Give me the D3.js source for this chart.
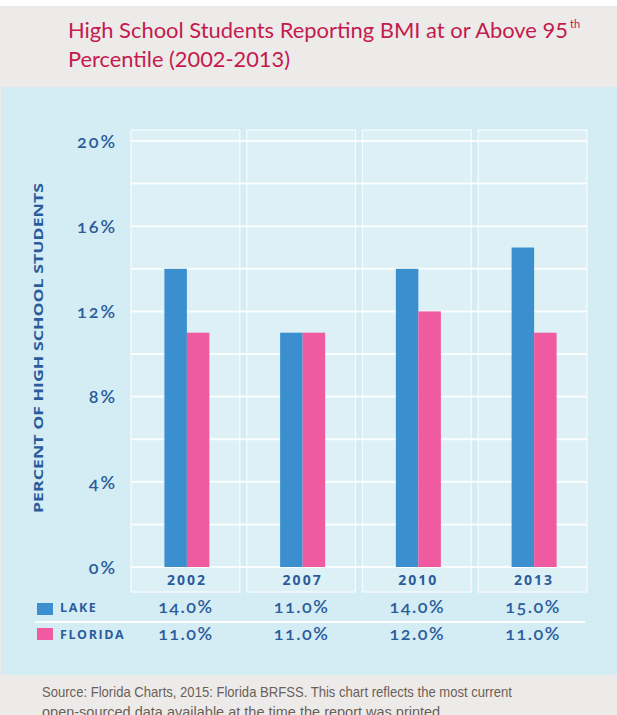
<!DOCTYPE html>
<html><head><meta charset="utf-8">
<script src="https://cdn.jsdelivr.net/npm/d3@7"></script>
<style>body{margin:0;background:#fff}svg{display:block}</style>
</head><body>
<script>
const years = ["2002","2007","2010","2013"];
const lake = [14,11,14,15];
const florida = [11,11,12,11];
const seriesNames = ["LAKE","FLORIDA"];
const yTicks = [0,4,8,12,16,20];
const titleLines = ["High School Students Reporting BMI at or Above 95","Percentile (2002-2013)"];
const sourceLines = ["Source: Florida Charts, 2015: Florida BRFSS. This chart reflects the most current",
  "open-sourced data available at the time the report was printed."];

const W=617,H=715;
const svg=d3.select("body").append("svg").attr("width",W).attr("height",H);
const blueTxt="#2a5c9c", cLake="#3b8fce", cFla="#ef5aa0";

// backgrounds
svg.append("rect").attr("x",0).attr("y",6).attr("width",W).attr("height",H-6).attr("fill","#ecebe9");
svg.append("rect").attr("x",1).attr("y",87).attr("width",W-1).attr("height",588).attr("fill","#d4ecf3");

// title
svg.append("text").attr("x",68).attr("y",38).attr("fill","#c41a4e")
  .style("font-family","Lato, 'Open Sans', sans-serif").style("font-size","22px")
  .attr("textLength",500).attr("lengthAdjust","spacingAndGlyphs").text(titleLines[0]);
svg.append("text").attr("x",570).attr("y",28).attr("fill","#c41a4e")
  .style("font-family","Lato, sans-serif").style("font-size","11px").text("th");
svg.append("text").attr("x",68).attr("y",67).attr("fill","#c41a4e")
  .style("font-family","Lato, 'Open Sans', sans-serif").style("font-size","22px")
  .attr("textLength",222).attr("lengthAdjust","spacingAndGlyphs").text(titleLines[1]);

// scales
const x=d3.scaleBand().domain(years).range([131,587]).paddingInner(0.06).paddingOuter(0);
const y=d3.scaleLinear().domain([0,20]).range([567,141]);
const barW=22.5;

// column panels
svg.append("g").selectAll("rect").data(years).join("rect")
  .attr("x",d=>x(d)).attr("y",130).attr("width",x.bandwidth()).attr("height",592-130)
  .attr("fill","#ddf0f6").attr("stroke","rgba(255,255,255,0.75)").attr("stroke-width",1.3);

// gridlines every 2%
const grid=d3.range(0,21,2);
svg.append("g").selectAll("line").data(grid).join("line")
  .attr("x1",131).attr("x2",587).attr("y1",d=>y(d)).attr("y2",d=>y(d))
  .attr("stroke","rgba(255,255,255,0.85)").attr("stroke-width",2);

// y axis via d3.axisLeft
const yAxis=d3.axisLeft(y).tickValues(yTicks).tickFormat(d=>d+"%").tickSize(0).tickPadding(0);
const gy=svg.append("g").attr("transform","translate(117,0)").call(yAxis);
gy.select(".domain").remove();
gy.selectAll("text").attr("fill",blueTxt).attr("dy","0.35em")
  .style("font-family","Lato, 'Open Sans', sans-serif").style("font-size","18px")
  .style("font-weight","600").style("letter-spacing","2px")
  .style("font-variant-numeric","oldstyle-nums");

// y title
svg.append("text").attr("transform","translate(43,348) rotate(-90)").attr("text-anchor","middle")
  .attr("fill",blueTxt).style("font-family","'Open Sans', Lato, sans-serif").style("font-size","13px")
  .style("font-weight","700").attr("textLength",330).attr("lengthAdjust","spacingAndGlyphs")
  .text("PERCENT OF HIGH SCHOOL STUDENTS");

// bars
const cx=d=>x(d)+x.bandwidth()/2+1.5;
svg.append("g").selectAll("rect").data(years.map((yr,i)=>({yr,v:lake[i]}))).join("rect")
  .attr("x",d=>cx(d.yr)-barW).attr("width",barW).attr("y",d=>y(d.v)).attr("height",d=>y(0)-y(d.v)).attr("fill",cLake);
svg.append("g").selectAll("rect").data(years.map((yr,i)=>({yr,v:florida[i]}))).join("rect")
  .attr("x",d=>cx(d.yr)).attr("width",barW).attr("y",d=>y(d.v)).attr("height",d=>y(0)-y(d.v)).attr("fill",cFla);

// x axis labels
const xAxis=d3.axisBottom(x).tickSize(0).tickPadding(0);
const gx=svg.append("g").attr("transform","translate(1.5,585)").call(xAxis);
gx.select(".domain").remove();
gx.selectAll("text").attr("dy",0).attr("fill",blueTxt)
  .style("font-family","'Open Sans', Lato, sans-serif").style("font-size","14px")
  .style("font-weight","700").style("letter-spacing","2px");

// table
svg.append("line").attr("x1",35).attr("x2",585).attr("y1",622).attr("y2",622)
  .attr("stroke","rgba(255,255,255,0.9)").attr("stroke-width",2);
const rows=[{name:seriesNames[0],vals:lake,color:cLake,yb:613,sq:603},
            {name:seriesNames[1],vals:florida,color:cFla,yb:640,sq:628}];
rows.forEach(r=>{
  svg.append("rect").attr("x",37).attr("y",r.sq).attr("width",16).attr("height",12).attr("fill",r.color);
  svg.append("text").attr("x",60).attr("y",r.yb-1).attr("fill",blueTxt)
    .style("font-family","'Open Sans', Lato, sans-serif").style("font-size","12.5px")
    .style("font-weight","700").style("letter-spacing","1.6px").text(r.name);
  svg.append("g").selectAll("text").data(years.map((yr,i)=>({yr,v:r.vals[i]}))).join("text")
    .attr("x",d=>cx(d.yr)-1).attr("y",r.yb).attr("text-anchor","middle").attr("fill",blueTxt)
    .style("font-family","Lato, 'Open Sans', sans-serif").style("font-size","18px")
    .style("font-weight","600").style("letter-spacing","1.5px")
    .style("font-variant-numeric","oldstyle-nums")
    .text(d=>d3.format(".1f")(d.v)+"%");
});

// source
sourceLines.forEach((t,i)=>{
  svg.append("text").attr("x",42).attr("y",697+i*20).attr("fill","#6c5f57")
    .style("font-family","'Liberation Sans Narrow', 'Liberation Sans', sans-serif").style("font-size","14.5px")
    .attr("textLength",i===0?470:null).attr("lengthAdjust","spacingAndGlyphs").text(t);
});
</script>
</body></html>
